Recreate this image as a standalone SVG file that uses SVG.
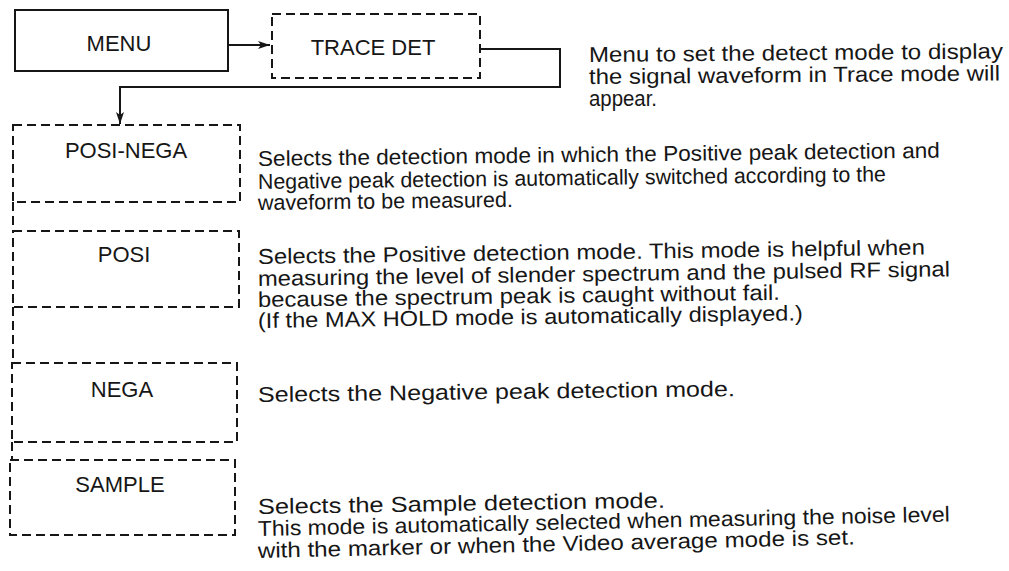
<svg xmlns="http://www.w3.org/2000/svg" width="1009" height="571" viewBox="0 0 1009 571">
<style>
.bg{fill:#ffffff}
.box{fill:none;stroke:#161616;stroke-width:2}
.dash{stroke-dasharray:9 5}
.conn{fill:none;stroke:#161616;stroke-width:2}
.lbl{font-family:"Liberation Sans",Arial,sans-serif;font-size:22px;fill:#161616;text-anchor:middle}
.txt{font-family:"Liberation Sans",Arial,sans-serif;font-size:21.5px;fill:#161616}
</style>
<defs>
<marker id="arr" viewBox="0 0 12 8" refX="12" refY="4" markerUnits="userSpaceOnUse" markerWidth="12" markerHeight="8" orient="auto">
<path d="M0,0 L12,4 L0,8 L3,4 z" fill="#161616"/>
</marker>
</defs>
<rect class="bg" x="0" y="0" width="1009" height="571"/>

<g id="connectors">
<path class="conn" d="M228,45 H270" marker-end="url(#arr)"/>
<path class="conn" d="M480,49 H560 V87 H120 V124" marker-end="url(#arr)"/>
<path class="box dash" d="M13,202 V231 M13,307 V363 M12,442 V460"/>
</g>

<g id="menu">
<rect class="box" x="15" y="10" width="213" height="61"/>
<text class="lbl" x="119" y="51">MENU</text>
</g>

<g id="trace-det">
<rect class="box dash" x="272" y="14" width="208" height="64"/>
<text class="lbl" x="373" y="55">TRACE DET</text>
<g class="txt">
<text x="589" y="62" textLength="414" lengthAdjust="spacingAndGlyphs" transform="rotate(-0.5 589 62)">Menu to set the detect mode to display</text>
<text x="589" y="84" textLength="411" lengthAdjust="spacingAndGlyphs" transform="rotate(-0.5 589 84)">the signal waveform in Trace mode will</text>
<text x="589" y="106" textLength="68" lengthAdjust="spacingAndGlyphs">appear.</text>
</g>
</g>

<g id="posi-nega">
<rect class="box dash" x="13" y="125" width="227" height="77"/>
<text class="lbl" x="126" y="158">POSI-NEGA</text>
<g class="txt">
<text x="258" y="166" textLength="682" lengthAdjust="spacingAndGlyphs" transform="rotate(-0.7 258 166)">Selects the detection mode in which the Positive peak detection and</text>
<text x="258" y="189" textLength="628" lengthAdjust="spacingAndGlyphs" transform="rotate(-0.7 258 189)">Negative peak detection is automatically switched according to the</text>
<text x="258" y="210" textLength="255" lengthAdjust="spacingAndGlyphs" transform="rotate(-0.7 258 210)">waveform to be measured.</text>
</g>
</g>

<g id="posi">
<rect class="box dash" x="13" y="231" width="226" height="76"/>
<text class="lbl" x="124" y="262">POSI</text>
<g class="txt">
<text x="258" y="264" textLength="667" lengthAdjust="spacingAndGlyphs" transform="rotate(-0.8 258 264)">Selects the Positive detection mode. This mode is helpful when</text>
<text x="258" y="286" textLength="692" lengthAdjust="spacingAndGlyphs" transform="rotate(-0.8 258 286)">measuring the level of slender spectrum and the pulsed RF signal</text>
<text x="258" y="307" textLength="522" lengthAdjust="spacingAndGlyphs" transform="rotate(-0.8 258 307)">because the spectrum peak is caught without fail.</text>
<text x="258" y="328" textLength="545" lengthAdjust="spacingAndGlyphs" transform="rotate(-0.8 258 328)">(If the MAX HOLD mode is automatically displayed.)</text>
</g>
</g>

<g id="nega">
<rect class="box dash" x="12" y="363" width="225" height="79"/>
<text class="lbl" x="122" y="397">NEGA</text>
<g class="txt">
<text x="258" y="402" textLength="477" lengthAdjust="spacingAndGlyphs" transform="rotate(-0.7 258 402)">Selects the Negative peak detection mode.</text>
</g>
</g>

<g id="sample">
<rect class="box dash" x="10" y="460" width="225" height="75"/>
<text class="lbl" x="120" y="492">SAMPLE</text>
<g class="txt">
<text x="258" y="514" textLength="407" lengthAdjust="spacingAndGlyphs" transform="rotate(-0.9 258 514)">Selects the Sample detection mode.</text>
<text x="258" y="536" textLength="692" lengthAdjust="spacingAndGlyphs" transform="rotate(-1.2 258 536)">This mode is automatically selected when measuring the noise level</text>
<text x="258" y="558" textLength="597" lengthAdjust="spacingAndGlyphs" transform="rotate(-1.3 258 558)">with the marker or when the Video average mode is set.</text>
</g>
</g>
</svg>
